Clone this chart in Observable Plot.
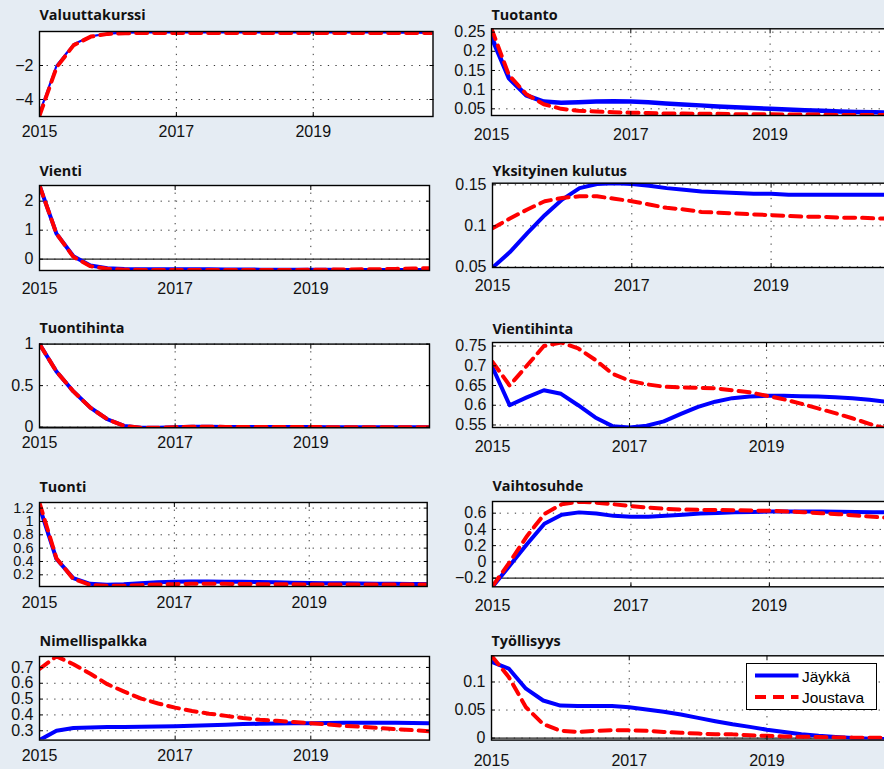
<!DOCTYPE html>
<html><head><meta charset="utf-8">
<script src="https://cdn.jsdelivr.net/npm/d3@7"></script>
<script src="https://cdn.jsdelivr.net/npm/@observablehq/plot@0.6"></script>
<style>
html,body{margin:0;padding:0;overflow:hidden;background:#e5ecf3;}
#fig{position:relative;width:884px;height:769px;overflow:hidden;background:#e5ecf3;}
#fig svg.plot{position:absolute;}
#fig svg.plot g[aria-label="x-axis tick label"] text{font-size:16px;font-family:'Liberation Sans',Arial,sans-serif;fill:#111;}
#fig svg.plot g[aria-label="y-axis tick label"] text{font-size:16px;font-family:'Liberation Sans',Arial,sans-serif;fill:#111;}
#fig svg.plot.tight g[aria-label="y-axis tick label"] text{font-size:14.5px;}
#legend{position:absolute;left:746px;top:663px;}
</style></head>
<body><div id="fig"></div>
<script>
// ---- data ----
const quarters = [2015, 2015.25, 2015.5, 2015.75, 2016, 2016.25, 2016.5, 2016.75,
  2017, 2017.25, 2017.5, 2017.75, 2018, 2018.25, 2018.5, 2018.75,
  2019, 2019.25, 2019.5, 2019.75, 2020, 2020.25, 2020.5, 2020.75];
const xTickLabels = [2015, 2017, 2019];
const seriesNames = ["Jäykkä", "Joustava"];
const titles = ["Valuuttakurssi", "Tuotanto", "Vienti", "Yksityinen kulutus", "Tuontihinta",
  "Vientihinta", "Tuonti", "Vaihtosuhde", "Nimellispalkka", "Työllisyys"];

const valuuttakurssiJaykka = [-4.8, -2.0, -0.75, -0.28, -0.12, -0.07, -0.06, -0.06, -0.06, -0.06, -0.06, -0.06, -0.06, -0.06, -0.06, -0.06, -0.06, -0.06, -0.06, -0.06, -0.06, -0.07, -0.07, -0.08];
const valuuttakurssiJoustava = [-4.95, -2.1, -0.8, -0.3, -0.14, -0.1, -0.09, -0.09, -0.09, -0.09, -0.09, -0.09, -0.09, -0.09, -0.09, -0.09, -0.09, -0.09, -0.09, -0.09, -0.09, -0.09, -0.09, -0.09];
const valuuttakurssiTicks = [-4, -2];

const tuotantoJaykka = [0.237, 0.130, 0.085, 0.069, 0.066, 0.067, 0.069, 0.070, 0.069, 0.067, 0.064, 0.061, 0.059, 0.056, 0.054, 0.052, 0.050, 0.048, 0.046, 0.045, 0.043, 0.042, 0.041, 0.040];
const tuotantoJoustava = [0.259, 0.138, 0.088, 0.062, 0.050, 0.045, 0.043, 0.041, 0.040, 0.039, 0.038, 0.038, 0.037, 0.037, 0.036, 0.036, 0.036, 0.035, 0.035, 0.035, 0.034, 0.034, 0.034, 0.034];
const tuotantoTicks = [0.05, 0.1, 0.15, 0.2, 0.25];

const vientiJaykka = [2.54, 0.88, 0.10, -0.22, -0.31, -0.34, -0.345, -0.345, -0.345, -0.35, -0.35, -0.355, -0.355, -0.36, -0.36, -0.36, -0.365, -0.365, -0.37, -0.37, -0.37, -0.37, -0.37, -0.37];
const vientiJoustava = [2.54, 0.88, 0.08, -0.24, -0.33, -0.36, -0.37, -0.37, -0.37, -0.37, -0.37, -0.37, -0.37, -0.37, -0.37, -0.37, -0.365, -0.36, -0.355, -0.35, -0.345, -0.335, -0.32, -0.31];
const vientiTicks = [0, 1, 2];

const kulutusJaykka = [0.049, 0.068, 0.091, 0.113, 0.132, 0.146, 0.151, 0.152, 0.151, 0.149, 0.146, 0.144, 0.142, 0.141, 0.140, 0.139, 0.139, 0.138, 0.138, 0.138, 0.138, 0.138, 0.138, 0.138];
const kulutusJoustava = [0.097, 0.109, 0.120, 0.130, 0.134, 0.136, 0.136, 0.133, 0.130, 0.126, 0.122, 0.120, 0.117, 0.116, 0.115, 0.114, 0.113, 0.112, 0.111, 0.111, 0.110, 0.110, 0.109, 0.109];
const kulutusTicks = [0.05, 0.1, 0.15];

const tuontihintaJaykka = [1.0, 0.67, 0.43, 0.235, 0.095, 0.015, -0.008, -0.008, 0.0, 0.004, 0.004, 0.003, 0.002, 0.002, 0.001, 0.001, 0.001, 0.0, 0.0, 0.0, 0.0, 0.0, 0.0, 0.0];
const tuontihintaJoustava = [1.0, 0.67, 0.43, 0.235, 0.095, 0.015, -0.008, -0.008, 0.0, 0.004, 0.004, 0.003, 0.002, 0.002, 0.001, 0.001, 0.001, 0.0, 0.0, 0.0, 0.0, 0.0, 0.0, 0.0];
const tuontihintaTicks = [0, 0.5, 1];

const vientihintaJaykka = [0.696, 0.600, 0.620, 0.638, 0.629, 0.600, 0.569, 0.547, 0.5436, 0.548, 0.559, 0.578, 0.596, 0.609, 0.618, 0.622, 0.624, 0.624, 0.623, 0.622, 0.620, 0.618, 0.614, 0.609];
const vientihintaJoustava = [0.710, 0.650, 0.700, 0.750, 0.759, 0.744, 0.715, 0.680, 0.662, 0.653, 0.647, 0.645, 0.644, 0.643, 0.638, 0.633, 0.624, 0.615, 0.604, 0.592, 0.580, 0.567, 0.553, 0.540];
const vientihintaTicks = [0.55, 0.6, 0.65, 0.7, 0.75];

const tuontiJaykka = [1.22, 0.44, 0.15, 0.065, 0.05, 0.058, 0.075, 0.088, 0.097, 0.10, 0.10, 0.098, 0.095, 0.091, 0.087, 0.083, 0.079, 0.075, 0.072, 0.069, 0.067, 0.065, 0.063, 0.062];
const tuontiJoustava = [1.28, 0.45, 0.14, 0.05, 0.035, 0.035, 0.045, 0.055, 0.06, 0.065, 0.065, 0.065, 0.062, 0.06, 0.058, 0.057, 0.056, 0.055, 0.055, 0.055, 0.055, 0.055, 0.055, 0.055];
const tuontiTicks = [0.2, 0.4, 0.6, 0.8, 1, 1.2];

const vaihtosuhdeJaykka = [-0.307, -0.045, 0.22, 0.47, 0.58, 0.61, 0.595, 0.567, 0.555, 0.555, 0.567, 0.58, 0.595, 0.603, 0.61, 0.615, 0.62, 0.62, 0.62, 0.62, 0.617, 0.615, 0.613, 0.61];
const vaihtosuhdeJoustava = [-0.30, 0.0, 0.32, 0.59, 0.71, 0.74, 0.73, 0.71, 0.686, 0.67, 0.653, 0.645, 0.641, 0.639, 0.637, 0.633, 0.629, 0.622, 0.613, 0.60, 0.588, 0.572, 0.555, 0.54];
const vaihtosuhdeTicks = [-0.2, 0, 0.2, 0.4, 0.6];

const palkkaJaykka = [0.241, 0.300, 0.317, 0.321, 0.323, 0.324, 0.325, 0.327, 0.329, 0.332, 0.335, 0.338, 0.342, 0.344, 0.346, 0.347, 0.348, 0.349, 0.350, 0.350, 0.350, 0.350, 0.349, 0.348];
const palkkaJoustava = [0.69, 0.77, 0.72, 0.66, 0.594, 0.547, 0.503, 0.472, 0.446, 0.425, 0.408, 0.394, 0.380, 0.369, 0.363, 0.355, 0.348, 0.340, 0.330, 0.325, 0.317, 0.310, 0.304, 0.296];
const palkkaTicks = [0.3, 0.4, 0.5, 0.6, 0.7];

const tyollisyysJaykka = [0.136, 0.124, 0.088, 0.067, 0.058, 0.057, 0.057, 0.057, 0.055, 0.051, 0.047, 0.042, 0.036, 0.030, 0.0245, 0.020, 0.015, 0.011, 0.007, 0.004, 0.002, 0.0, -0.001, -0.002];
const tyollisyysJoustava = [0.1467, 0.109, 0.055, 0.025, 0.013, 0.011, 0.013, 0.014, 0.014, 0.013, 0.011, 0.0095, 0.008, 0.007, 0.0066, 0.005, 0.004, 0.003, 0.0024, 0.0018, 0.0012, 0.0008, 0.0006, 0.0006];
const tyollisyysTicks = [0, 0.05, 0.1];

// ---- panel definitions (data references + y ranges) ----
const panels = [
  {a: valuuttakurssiJaykka, b: valuuttakurssiJoustava, ticks: valuuttakurssiTicks, domain: [-5, 0], zero: null},
  {a: tuotantoJaykka, b: tuotantoJoustava, ticks: tuotantoTicks, domain: [0.0326, 0.2587], zero: null},
  {a: vientiJaykka, b: vientiJoustava, ticks: vientiTicks, domain: [-0.39, 2.54], zero: 0},
  {a: kulutusJaykka, b: kulutusJoustava, ticks: kulutusTicks, domain: [0.0492, 0.152], zero: null},
  {a: tuontihintaJaykka, b: tuontihintaJoustava, ticks: tuontihintaTicks, domain: [-0.008, 1.0], zero: 0},
  {a: vientihintaJaykka, b: vientihintaJoustava, ticks: vientihintaTicks, domain: [0.5436, 0.759], zero: null},
  {a: tuontiJaykka, b: tuontiJoustava, ticks: tuontiTicks, domain: [0.025, 1.284], zero: null, tight: true},
  {a: vaihtosuhdeJaykka, b: vaihtosuhdeJoustava, ticks: vaihtosuhdeTicks, domain: [-0.307, 0.744], zero: -0.2},
  {a: palkkaJaykka, b: palkkaJoustava, ticks: palkkaTicks, domain: [0.241, 0.769], zero: null},
  {a: tyollisyysJaykka, b: tyollisyysJoustava, ticks: tyollisyysTicks, domain: [-0.0036, 0.1467], zero: 0}
];

// ---- layout (pixel positions of each plot box) ----
const layout = [
  {col: 0, x0: 39, x1: 432.5, y0: 31, y1: 116, tb: 19, lb: 20.7, bw: 2.2},
  {col: 1, x0: 491, x1: 891.5, y0: 28.3, y1: 115, tb: 19, lb: 24.3, bw: 4.5},
  {col: 0, x0: 39, x1: 429, y0: 185, y1: 270, tb: 175, lb: 23.3, bw: 4},
  {col: 1, x0: 492, x1: 892.5, y0: 182.7, y1: 267, tb: 175, lb: 23, bw: 4},
  {col: 0, x0: 39, x1: 429, y0: 343.3, y1: 427, tb: 332.7, lb: 20.3, bw: 4},
  {col: 1, x0: 492, x1: 886, y0: 341.7, y1: 426.7, tb: 332.7, lb: 24, bw: 4},
  {col: 0, x0: 39, x1: 426.7, y0: 501.7, y1: 585.7, tb: 490.7, lb: 21, bw: 4},
  {col: 1, x0: 492, x1: 890, y0: 500.7, y1: 586, tb: 490.7, lb: 24, bw: 4},
  {col: 0, x0: 39, x1: 429, y0: 655.7, y1: 739.3, tb: 645.7, lb: 20.7, bw: 4},
  {col: 1, x0: 491, x1: 887, y0: 655, y1: 739.3, tb: 645.7, lb: 25.7, bw: 4}
];

const fmt = d => (d < 0 ? "\u2212" : "") + String(Math.abs(d));
const FONT = "'Liberation Sans', Arial, sans-serif";
const XFS = 16;
const fig = document.getElementById("fig");

panels.forEach((p, k) => {
  const L = layout[k];
  const svgLeft = L.col === 0 ? 0 : 442;
  const svgW = L.col === 0 ? 442 : 460;
  const svgTop = L.tb - 18;
  const svgH = (L.y1 + 32) - svgTop;
  const rowsA = quarters.map((q, i) => ({x: q, v: p.a[i]}));
  const rowsB = quarters.map((q, i) => ({x: q, v: p.b[i]}));
  const chart = Plot.plot({
    width: svgW, height: svgH,
    marginLeft: L.x0 - svgLeft,
    marginRight: svgLeft + svgW - L.x1,
    marginTop: L.y0 - svgTop,
    marginBottom: svgTop + svgH - L.y1,
    style: {background: "transparent", fontFamily: FONT, fontSize: XFS + "px", color: "#000", overflow: "visible"},
    x: {domain: [quarters[0], quarters[quarters.length - 1]], label: null},
    y: {domain: p.domain, label: null},
    marks: [
      Plot.frame({fill: "white", stroke: "none"}),
      Plot.gridY(p.ticks, {stroke: "#222", strokeOpacity: 0.9, strokeWidth: 1, strokeDasharray: "1.3,6.3"}),
      Plot.gridX(xTickLabels.slice(1), {stroke: "#222", strokeOpacity: 0.9, strokeWidth: 1, strokeDasharray: "1.3,6.3"}),
      p.zero !== null ? Plot.ruleY([p.zero], {stroke: "#222", strokeWidth: 1.2}) : null,
      Plot.line(rowsA, {x: "x", y: "v", stroke: "#0000ff", strokeWidth: L.bw, clip: true, title: () => seriesNames[0]}),
      Plot.line(rowsB, {x: "x", y: "v", stroke: "#ff0000", strokeWidth: 4, strokeDasharray: "11,7", clip: true, title: () => seriesNames[1]}),
      Plot.axisX(xTickLabels, {anchor: "bottom", tickSize: 0, tickPadding: L.lb - 0.71 * XFS, tickFormat: d => String(d), label: null}),
      Plot.axisX(xTickLabels, {anchor: "bottom", tickSize: -4, tickFormat: () => "", label: null, ariaLabel: "x-axis inner tick"}),
      Plot.axisX(xTickLabels, {anchor: "top", tickSize: -4, tickFormat: () => "", label: null, ariaLabel: "x-axis inner tick"}),
      Plot.axisY(p.ticks, {anchor: "left", tickSize: 0, tickPadding: 6, tickFormat: fmt, label: null}),
      Plot.axisY(p.ticks, {anchor: "left", tickSize: -4, tickFormat: () => "", label: null, ariaLabel: "y-axis inner tick"}),
      Plot.axisY(p.ticks, {anchor: "right", tickSize: -4, tickFormat: () => "", label: null, ariaLabel: "y-axis inner tick"}),
      Plot.frame({stroke: "#000", strokeWidth: 1.4}),
      Plot.text([titles[k]], {text: d => d, frameAnchor: "top-left", dy: L.tb - L.y0, textAnchor: "start", lineAnchor: "bottom",
        fontFamily: "'Open Sans', sans-serif", fontWeight: 700, fontSize: 14.4, fill: "#111"})
    ]
  });
  chart.classList.add("plot");
  if (p.tight) chart.classList.add("tight");
  chart.style.left = svgLeft + "px";
  chart.style.top = svgTop + "px";
  fig.appendChild(chart);
});

// ---- legend (last panel) ----
const lg = d3.select(fig).append("svg").attr("id", "legend").attr("width", 131).attr("height", 47);
lg.append("rect").attr("x", 0.5).attr("y", 0.5).attr("width", 130).attr("height", 46).attr("fill", "white").attr("stroke", "#000").attr("stroke-width", 1);
const lgColors = ["#0000ff", "#ff0000"];
const lgDash = [null, "11,7"];
seriesNames.forEach((name, i) => {
  const yy = 12.5 + i * 21.5;
  lg.append("line").attr("x1", 9).attr("x2", 52.5).attr("y1", yy).attr("y2", yy)
    .attr("stroke", lgColors[i]).attr("stroke-width", 4).attr("stroke-dasharray", lgDash[i]);
  lg.append("text").attr("x", 56).attr("y", yy + 6).text(name)
    .attr("font-family", FONT).attr("font-size", 15.5).attr("fill", "#000");
});
</script>
</body></html>
